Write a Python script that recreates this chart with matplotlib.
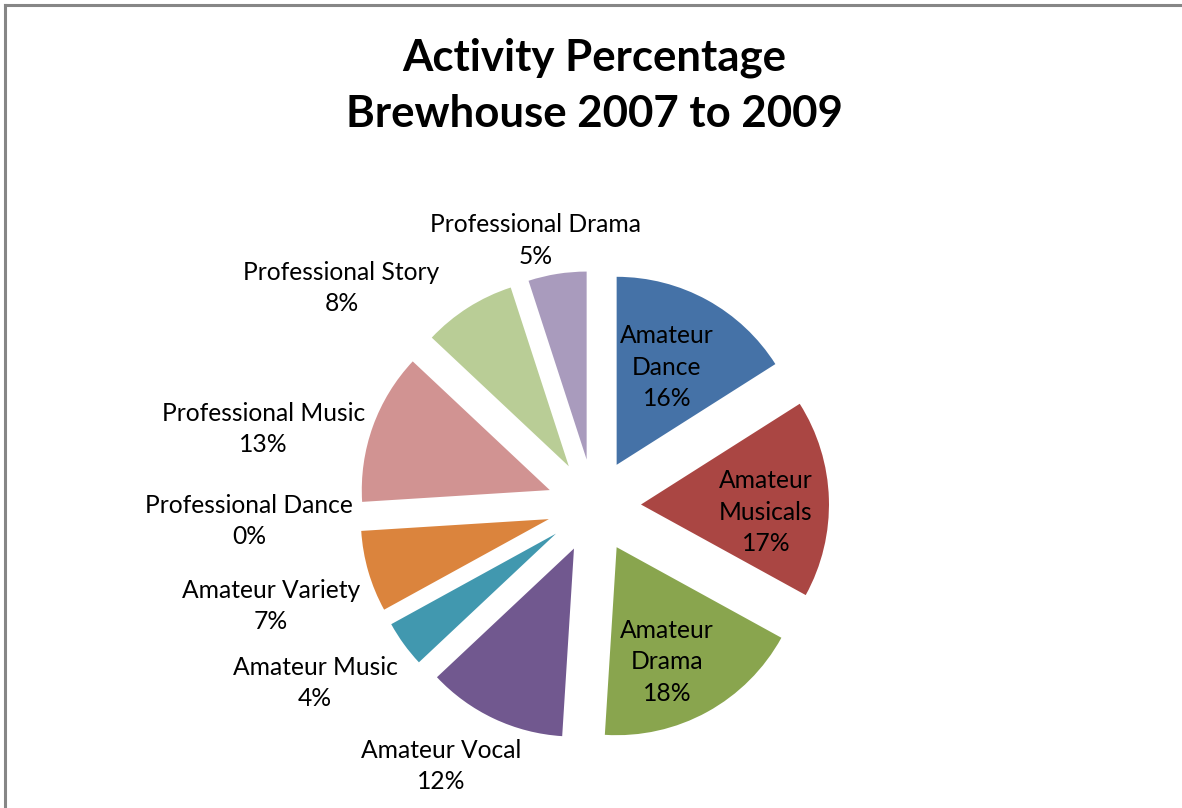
import matplotlib
matplotlib.use("Agg")
import matplotlib.pyplot as plt
import numpy as np
from matplotlib.lines import Line2D

# ---- data ----
categories = ["Amateur Dance", "Amateur Musicals", "Amateur Drama", "Amateur Vocal",
              "Amateur Music", "Amateur Variety", "Professional Dance",
              "Professional Music", "Professional Story", "Professional Drama"]
values = [16, 17, 18, 12, 4, 7, 0, 13, 8, 5]
title_lines = ["Activity Percentage", "Brewhouse 2007 to 2009"]

# ---- style ----
colors = ["#4572A7", "#AA4643", "#89A54E", "#71588F", "#4198AF",
          "#DB843D", "#93A9CF", "#D19392", "#B9CD96", "#A99BBD"]
inside = [True, True, True, False, False, False, False, False, False, False]
# label placement: (radial distance in radii, angle nudge from wedge bisector in deg)
label_place = [(0.835, 1.1), (0.915, -3.8), (0.916, -3.7), (1.605, -5.3),
               (1.757, -3.6), (1.798, 1.0), (1.837, -1.1), (1.805, 6.7),
               (1.775, 16.8), (1.444, 3.4)]

plt.rcParams["font.family"] = ["Lato", "DejaVu Sans"]

W, H = 1182, 808
fig = plt.figure(figsize=(W / 100, H / 100), dpi=100)
R_PX, CX, CY = 188.0, 594.0, 506.0
ax = fig.add_axes([0, 0, 1, 1])

wedges, _ = ax.pie(values, colors=colors, startangle=90, counterclock=False,
                   explode=[0.25] * len(values), radius=1.0,
                   wedgeprops=dict(linewidth=0))
ax.set_xlim(-CX / R_PX, (W - CX) / R_PX)
ax.set_ylim(-(H - CY) / R_PX, CY / R_PX)
ax.set_aspect("equal")
ax.axis("off")

for w, name, v, ins, (dist, dang) in zip(wedges, categories, values, inside, label_place):
    mid = 0.5 * (w.theta1 + w.theta2) + dang
    a = np.deg2rad(mid)
    txt = (name.replace(" ", "\n") if ins else name) + f"\n{v}%"
    ax.text(dist * np.cos(a), dist * np.sin(a), txt, ha="center", va="center",
            multialignment="center", fontsize=17.7, linespacing=1.46, color="black")

fig.text(594 / W, 1 - 86 / H, "\n".join(title_lines), ha="center", va="center",
         fontsize=31.5, fontweight="bold", linespacing=1.47, color="black")

# chart frame (top and left edges visible)
fig.add_artist(Line2D([4.5 / W, 1], [1 - 4.5 / H, 1 - 4.5 / H], transform=fig.transFigure,
                      color="#868686", linewidth=2.2))
fig.add_artist(Line2D([4.5 / W, 4.5 / W], [0, 1 - 4.5 / H], transform=fig.transFigure,
                      color="#868686", linewidth=2.2))

fig.savefig("out.png", dpi=100, facecolor="white")
